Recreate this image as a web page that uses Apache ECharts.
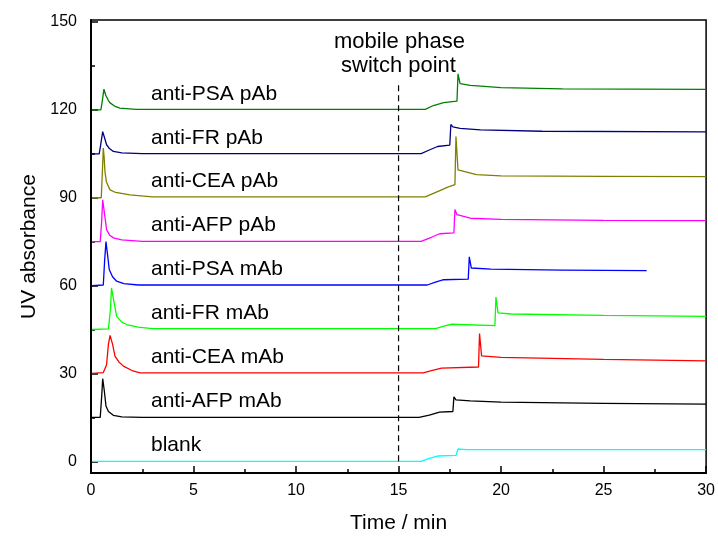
<!DOCTYPE html>
<html>
<head>
<meta charset="utf-8">
<script src="https://cdn.jsdelivr.net/npm/echarts@6/dist/echarts.min.js"></script>
<style>
  html, body { margin: 0; padding: 0; background: #fff; }
  #chart { width: 718px; height: 539px; }
</style>
</head>
<body>
<div id="chart"></div>
<script>
// tick values
var xTicks = [0, 5, 10, 15, 20, 25, 30];
var xMinor = [2.5, 7.5, 12.5, 17.5, 22.5, 27.5];
var yTicks = [0, 30, 60, 90, 120, 150];
var yMinor = [15, 45, 75, 105, 135];

// traces: time (min) and absorbance
var blankT = [0.05, 16.1, 16.5, 16.9, 17.8, 17.9, 18.3, 30];
var blankV = [0, 0, 1, 1.8, 2.0, 4.2, 4.0, 4.0];

var afpMT = [0.05, 0.45, 0.52, 0.57, 0.65, 0.73, 0.85, 1.09, 1.5, 2.5, 16.0, 16.5, 17.0, 17.65, 17.7, 17.8, 18.5, 20, 25, 30];
var afpMV = [15, 15, 22, 28.2, 24, 18.9, 17, 15.7, 15.2, 15, 15, 15.8, 16.8, 17, 22, 21, 20.6, 20.2, 19.8, 19.5];

var ceaMT = [0.05, 0.6, 0.76, 0.85, 0.93, 1.05, 1.17, 1.35, 1.58, 2.0, 2.4, 16.2, 16.6, 17.1, 18.9, 18.95, 19.05, 20, 25, 30];
var ceaMV = [30, 30.3, 33, 40, 43, 40, 35.9, 34, 32.5, 31, 30.2, 30.2, 31, 31.8, 32.2, 43.6, 36, 35.5, 34.8, 34.3];

var frMT = [0.05, 0.85, 0.95, 1.0, 1.08, 1.25, 1.5, 1.74, 2.3, 3, 16.8, 17.3, 17.6, 19.7, 19.75, 19.85, 20.5, 25, 30];
var frMV = [45, 45.2, 52, 59.2, 56, 49.5, 47.5, 46.7, 45.8, 45.3, 45.3, 46.3, 46.8, 46.3, 56.1, 50.7, 50.3, 49.8, 49.5];

var psaMT = [0.05, 0.6, 0.66, 0.73, 0.8, 0.89, 1.05, 1.25, 1.6, 2.3, 16.4, 16.8, 17.2, 18.4, 18.45, 18.55, 19.5, 23, 27.1];
var psaMV = [60, 60.2, 68, 75, 71, 65.5, 63, 61.5, 60.7, 60.2, 60.2, 61.2, 62, 62.2, 69.8, 66, 65.6, 65.3, 65.1];

var afpPT = [0.05, 0.45, 0.52, 0.57, 0.65, 0.76, 0.9, 1.09, 1.5, 2.5, 16.1, 16.6, 17.0, 17.7, 17.75, 17.85, 18.5, 20, 25, 30];
var afpPV = [75, 75, 82, 89.3, 85, 79.1, 77.3, 76.3, 75.6, 75.1, 75.1, 76.5, 77.7, 78, 86, 84.2, 83, 82.6, 82.3, 82.2];

var ceaPT = [0.05, 0.5, 0.55, 0.6, 0.64, 0.68, 0.75, 0.85, 0.93, 1.2, 1.9, 3, 16.3, 16.7, 17.1, 17.4, 17.75, 17.8, 17.9, 18.8, 20, 25, 30];
var ceaPV = [90, 90, 98, 107, 104, 99, 95.5, 93.8, 92.7, 91.8, 91, 90.3, 90.3, 91.5, 92.7, 93.6, 94.5, 110.9, 99.5, 97.9, 97.5, 97.3, 97.2];

var frPT = [0.05, 0.4, 0.47, 0.57, 0.66, 0.76, 0.9, 1.09, 1.5, 2.5, 16.1, 16.5, 16.9, 17.5, 17.55, 17.65, 18, 19, 22, 30];
var frPV = [105, 105, 108, 112.6, 110.5, 108.1, 106.8, 105.8, 105.3, 105.1, 105.1, 106.3, 107.5, 108, 115, 114.2, 113.7, 113.2, 112.7, 112.5];

var psaPT = [0.05, 0.48, 0.55, 0.63, 0.72, 0.85, 0.93, 1.15, 1.4, 2.2, 16.3, 16.7, 17.2, 17.85, 17.9, 18.0, 18.5, 20, 23, 30];
var psaPV = [120, 120, 123, 127.1, 125, 123.2, 122.4, 121.3, 120.6, 120.2, 120.2, 121.5, 122.5, 123, 132.3, 129, 128.4, 127.6, 127.2, 127.0];

// switch point marker
var switchT = [15, 15];
var switchV = [0, 129.5];

var traces = [
  { name: "blank", t: blankT, v: blankV, color: "#00ffff", top: 435 },
  { name: "anti-AFP mAb", t: afpMT, v: afpMV, color: "#000000", top: 391 },
  { name: "anti-CEA mAb", t: ceaMT, v: ceaMV, color: "#ff0000", top: 347 },
  { name: "anti-FR mAb", t: frMT, v: frMV, color: "#00ff00", top: 303 },
  { name: "anti-PSA mAb", t: psaMT, v: psaMV, color: "#0000ff", top: 259 },
  { name: "anti-AFP pAb", t: afpPT, v: afpPV, color: "#ff00ff", top: 215 },
  { name: "anti-CEA pAb", t: ceaPT, v: ceaPV, color: "#808000", top: 171 },
  { name: "anti-FR pAb", t: frPT, v: frPV, color: "#000080", top: 128 },
  { name: "anti-PSA pAb", t: psaPT, v: psaPV, color: "#008000", top: 84 }
];

function pairs(t, v) {
  var out = [];
  for (var i = 0; i < t.length; i++) out.push([t[i], v[i]]);
  return out;
}

var font = "'Liberation Sans', Arial, sans-serif";

var series = traces.map(function (tr) {
  return {
    name: tr.name,
    type: "line",
    xAxisIndex: 0,
    yAxisIndex: 0,
    showSymbol: false,
    animation: false,
    lineStyle: { color: tr.color, width: 1.3 },
    data: pairs(tr.t, tr.v)
  };
});
series.push({
  name: "switch",
  type: "line",
  showSymbol: false,
  animation: false,
  lineStyle: { color: "#000", width: 1.2, type: [6, 4] },
  data: pairs(switchT, switchV)
});

var labels = traces.map(function (tr) {
  return {
    type: "text",
    left: 151,
    top: tr.top,
    style: { text: tr.name, font: "21px " + font, fill: "#000" }
  };
});
labels.push({
  type: "text",
  left: 334,
  top: 31,
  style: { text: "mobile phase", font: "22px " + font, fill: "#000" }
});
labels.push({
  type: "text",
  left: 341,
  top: 55,
  style: { text: "switch point", font: "22px " + font, fill: "#000" }
});

var chartDom = document.getElementById("chart");
var myChart = echarts.init(chartDom);
var option = {
  backgroundColor: "#fff",
  animation: false,
  grid: {
    left: 91,
    right: 11,
    top: 20,
    bottom: 65,
    show: true,
    borderColor: "#000",
    borderWidth: 1.5,
    backgroundColor: "transparent"
  },
  xAxis: [
    {
      type: "value",
      min: 0,
      max: 30,
      splitLine: { show: false },
      axisLine: { show: true, onZero: false, lineStyle: { color: "#000", width: 2 } },
      axisTick: { show: true, inside: true, length: 7, customValues: xTicks, lineStyle: { color: "#000", width: 1.5 } },
      axisLabel: { customValues: xTicks, color: "#000", fontSize: 16, fontFamily: font, margin: 10 },
      name: "Time / min",
      nameLocation: "middle",
      nameGap: 40,
      nameTextStyle: { color: "#000", fontSize: 21, fontFamily: font }
    },
    {
      type: "value",
      min: 0,
      max: 30,
      position: "bottom",
      splitLine: { show: false },
      axisLine: { show: false, onZero: false },
      axisTick: { show: true, inside: true, length: 4, customValues: xMinor, lineStyle: { color: "#000", width: 1.5 } },
      axisLabel: { show: false }
    }
  ],
  yAxis: [
    {
      type: "value",
      min: -4,
      max: 150.7,
      splitLine: { show: false },
      axisLine: { show: true, onZero: false, lineStyle: { color: "#000", width: 2 } },
      axisTick: { show: true, inside: true, length: 7, customValues: yTicks, lineStyle: { color: "#000", width: 1.5 } },
      axisLabel: { customValues: yTicks, color: "#000", fontSize: 16, fontFamily: font, margin: 14 },
      name: "UV absorbance",
      nameLocation: "middle",
      nameGap: 47,
      nameTextStyle: { color: "#000", fontSize: 21, fontFamily: font }
    },
    {
      type: "value",
      min: -4,
      max: 150.7,
      position: "left",
      splitLine: { show: false },
      axisLine: { show: false, onZero: false },
      axisTick: { show: true, inside: true, length: 4, customValues: yMinor, lineStyle: { color: "#000", width: 1.5 } },
      axisLabel: { show: false }
    }
  ],
  graphic: labels,
  series: series
};

if (option && typeof option === "object") {
  myChart.setOption(option);
}

window.addEventListener("resize", myChart.resize);
</script>
</body>
</html>
